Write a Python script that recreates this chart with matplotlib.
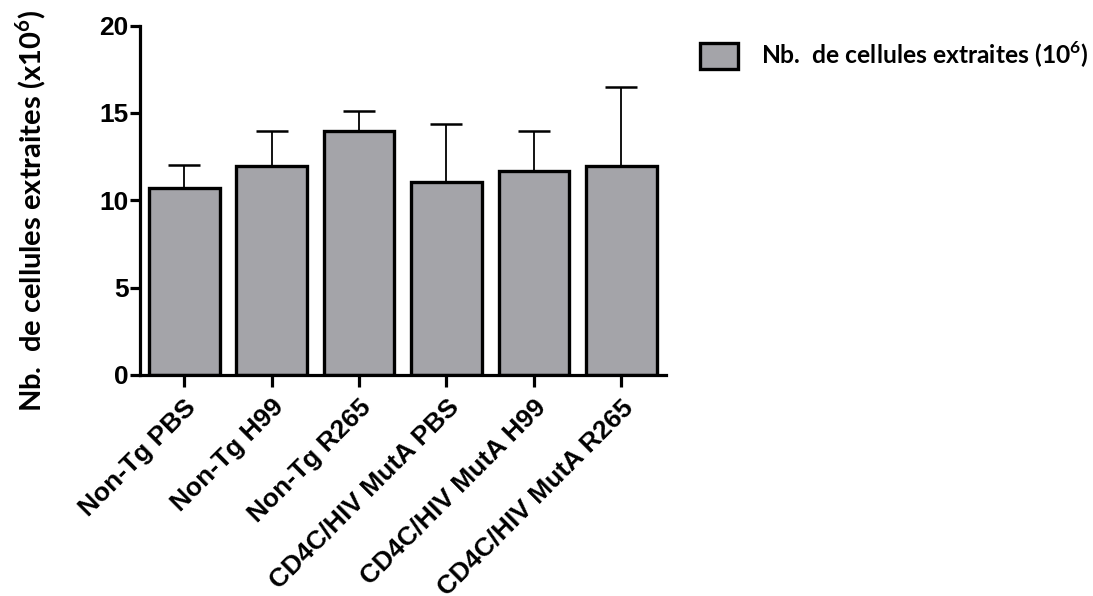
import numpy as np
import matplotlib
matplotlib.use("Agg")
import matplotlib.pyplot as plt
from matplotlib.transforms import ScaledTranslation

# Groups and measured cell counts (x10^6): mean and upper error
groups = ["Non-Tg PBS", "Non-Tg H99", "Non-Tg R265",
          "CD4C/HIV MutA PBS", "CD4C/HIV MutA H99", "CD4C/HIV MutA R265"]
means = [10.72, 11.96, 13.97, 11.07, 11.68, 11.98]
errors = [1.30, 2.01, 1.14, 3.28, 2.29, 4.51]
yticks = [0, 5, 10, 15, 20]

plt.rcParams["mathtext.fontset"] = "custom"
plt.rcParams["mathtext.rm"] = "Lato"
plt.rcParams["mathtext.bf"] = "Lato:bold"

fig = plt.figure(figsize=(10.93, 5.96), dpi=100)
ax = fig.add_axes([0.128, 0.371, 0.481, 0.586])

x = np.arange(len(groups))
bars = ax.bar(x, means, width=0.81, color="#a4a4a9", edgecolor="black",
              linewidth=2.4, zorder=2,
              label=r"Nb.  de cellules extraites (10$^{\mathbf{6}}$)")
ax.errorbar(x, means, yerr=[np.zeros(len(means)), errors], fmt="none",
            ecolor="black", elinewidth=1.3, capsize=11.5, capthick=1.8, zorder=1)

ax.set_xlim(-0.506, len(groups) - 0.494)
ax.set_ylim(0, 20)
ax.set_yticks(yticks)
ax.set_xticks(x)
ax.set_xticklabels(groups, rotation=45, ha="right", rotation_mode="anchor",
                   fontsize=19, fontweight="bold", family="Liberation Sans")
# nudge the slanted labels so they end just past each tick
shift = ScaledTranslation(-9 / 100, -4 / 100, fig.dpi_scale_trans)
for lab in ax.get_xticklabels():
    lab.set_transform(lab.get_transform() + shift)
for lab in ax.get_yticklabels():
    lab.set_fontsize(19)
    lab.set_fontweight("bold")
    lab.set_family("Liberation Sans")

for side in ["top", "right"]:
    ax.spines[side].set_visible(False)
for side in ["left", "bottom"]:
    ax.spines[side].set_linewidth(2.3)
ax.tick_params(axis="y", length=7, width=2.3, pad=1)
ax.tick_params(axis="x", length=8.5, width=2.3, pad=6)

ax.set_ylabel(r"Nb.  de cellules extraites (x10$^{\mathbf{6}}$)",
              fontsize=21, fontweight="bold", family="Lato")
ax.yaxis.set_label_coords(-0.175, 0.469)

ax.legend(handles=[bars], loc="center left",
          bbox_to_anchor=(700 / 1093, 1 - 55 / 596),
          bbox_transform=fig.transFigure, frameon=False,
          prop={"family": "Lato", "weight": "bold", "size": 17.7},
          handlelength=1.55, handleheight=1.3, handletextpad=0.95,
          borderpad=0, borderaxespad=0)

fig.savefig("out.png", dpi=100)
